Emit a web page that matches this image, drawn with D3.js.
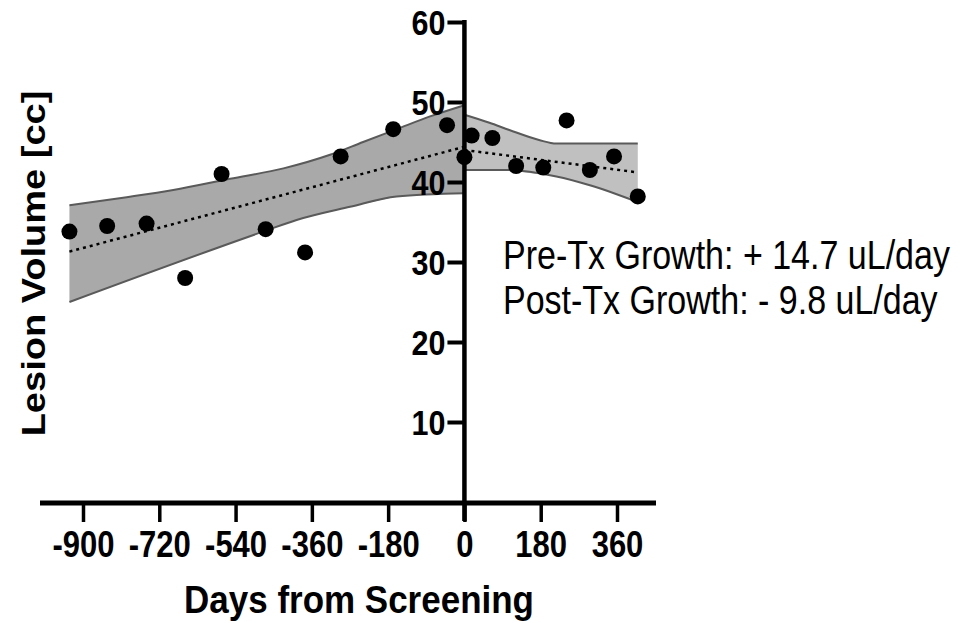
<!DOCTYPE html>
<html>
<head>
<meta charset="utf-8">
<script src="https://cdn.jsdelivr.net/npm/d3@7"></script>
<style>
  body { margin: 0; background: #fff; }
  text { font-family: "Liberation Sans", Arial, sans-serif; }
</style>
</head>
<body>
<script>
// lesion volume points (days from screening, cc)
var days = [-932, -843, -750, -659, -573, -469, -376, -292, -168, -41, 0, 17, 66, 122, 186, 241, 296, 353, 409];
var volumes = [33.8, 34.5, 34.8, 28.0, 41.0, 34.1, 31.2, 43.2, 46.6, 47.1, 43.1, 45.8, 45.5, 42.0, 41.8, 47.7, 41.5, 43.2, 38.2];

// fitted lines
var preFitDays = [-932, 0];
var preFitVol = [31.3, 44.4];
var postFitDays = [0, 409];
var postFitVol = [44.0, 41.2];

// confidence bands
var preUpperDays = [-932, -797, -687, -553, -427, -317, -239, -160, -81, 0];
var preUpperVol = [37.1, 38.1, 39.0, 40.4, 41.7, 43.4, 45.0, 46.6, 48.2, 49.6];
var preLowerDays = [-932, -475, -396, -270, -160, 0];
var preLowerVol = [25.0, 33.8, 35.25, 36.9, 38.2, 38.6];
var postUpperDays = [0, 59, 106, 176, 217, 409];
var postUpperVol = [48.4, 47.4, 46.5, 45.25, 44.8, 44.8];
var postLowerDays = [0, 99, 217, 296, 409];
var postLowerVol = [41.5, 41.5, 40.7, 39.6, 37.5];

var xTicks = [-900, -720, -540, -360, -180, 0, 180, 360];
var yTicks = [10, 20, 30, 40, 50, 60];

var notes = ["Pre-Tx Growth: + 14.7 uL/day", "Post-Tx Growth: - 9.8 uL/day"];

var width = 968, height = 623;
var stretch = 1.17; // text looks a bit taller than wide

var svg = d3.select("body").append("svg")
    .attr("width", width)
    .attr("height", height);

var x = d3.scaleLinear().domain([-900, 360]).range([83, 617]);
var y = d3.scaleLinear().domain([0, 60]).range([502, 22]);

function zipPts(ds, vs) {
    return ds.map(function (d, i) { return [d, vs[i]]; });
}

// band: upper edge, then lower edge back
function drawBand(upD, upV, loD, loV, fill) {
    var up = zipPts(upD, upV);
    var lo = zipPts(loD, loV);
    var line = d3.line().x(function (d) { return x(d[0]); }).y(function (d) { return y(d[1]); })
        .curve(d3.curveMonotoneX);
    var poly = up.concat(lo.slice().reverse());
    svg.append("path")
        .attr("d", d3.line().x(function (d) { return x(d[0]); }).y(function (d) { return y(d[1]); })(poly))
        .attr("fill", fill);
    [up, lo].forEach(function (edge) {
        svg.append("path")
            .attr("d", line(edge))
            .attr("fill", "none")
            .attr("stroke", "#5a5a5a")
            .attr("stroke-width", 2);
    });
}

drawBand(preUpperDays, preUpperVol, preLowerDays, preLowerVol, "#a9a9a9");
drawBand(postUpperDays, postUpperVol, postLowerDays, postLowerVol, "#c0c0c0");

// dotted fits
[[preFitDays, preFitVol], [postFitDays, postFitVol]].forEach(function (f) {
    svg.append("path")
        .attr("d", d3.line().x(function (d) { return x(d[0]); }).y(function (d) { return y(d[1]); })(zipPts(f[0], f[1])))
        .attr("fill", "none")
        .attr("stroke", "#000")
        .attr("stroke-width", 2.5)
        .attr("stroke-dasharray", "3,4");
});

// axes
var yAxis = svg.append("g")
    .attr("transform", "translate(" + x(0) + ",0)")
    .call(d3.axisLeft(y).tickValues(yTicks).tickSize(17).tickFormat(function (d) { return String(d); }));
yAxis.select(".domain").remove();
yAxis.selectAll(".tick line").attr("stroke", "#000").attr("stroke-width", 4);
yAxis.selectAll(".tick text")
    .attr("x", -19)
    .attr("y", 11)
    .attr("dy", null)
    .attr("transform", "scale(1," + stretch + ")")
    .attr("fill", "#000")
    .style("font-size", "30.5px")
    .style("font-weight", "bold")
    .style("font-family", "'Liberation Sans', Arial, sans-serif");

var xAxis = svg.append("g")
    .attr("transform", "translate(0," + (y(0) + 1) + ")")
    .call(d3.axisBottom(x).tickValues(xTicks).tickSize(19).tickFormat(function (d) { return String(d); }));
xAxis.select(".domain").remove();
xAxis.selectAll(".tick line").attr("stroke", "#000").attr("stroke-width", 3.5);
xAxis.selectAll(".tick text")
    .attr("y", 54 / stretch)
    .attr("dy", null)
    .attr("transform", "scale(1," + stretch + ")")
    .attr("fill", "#000")
    .style("font-size", "31px")
    .style("font-weight", "bold")
    .style("font-family", "'Liberation Sans', Arial, sans-serif");

// axis lines
svg.append("line")
    .attr("x1", 40).attr("x2", 656)
    .attr("y1", y(0) + 1).attr("y2", y(0) + 1)
    .attr("stroke", "#000").attr("stroke-width", 5);
svg.append("line")
    .attr("x1", x(0)).attr("x2", x(0))
    .attr("y1", y(60) - 2).attr("y2", 521)
    .attr("stroke", "#000").attr("stroke-width", 4.5);

// points
svg.selectAll("circle.pt")
    .data(zipPts(days, volumes))
    .enter()
    .append("circle")
    .attr("class", "pt")
    .attr("cx", function (d) { return x(d[0]); })
    .attr("cy", function (d) { return y(d[1]); })
    .attr("r", 8)
    .attr("fill", "#000");

// titles
svg.append("text")
    .attr("transform", "translate(359,613) scale(1,1.12)")
    .attr("text-anchor", "middle")
    .style("font-size", "35px")
    .style("font-weight", "bold")
    .text("Days from Screening");

svg.append("text")
    .attr("transform", "translate(45,263.5) scale(1," + stretch + ") rotate(-90)")
    .attr("text-anchor", "middle")
    .style("font-size", "32.5px")
    .style("font-weight", "bold")
    .text("Lesion Volume [cc]");

notes.forEach(function (t, i) {
    svg.append("text")
        .attr("transform", "translate(503," + (269 + i * 45) + ") scale(1," + stretch + ")")
        .style("font-size", "34px")
        .text(t);
});
</script>
</body>
</html>
